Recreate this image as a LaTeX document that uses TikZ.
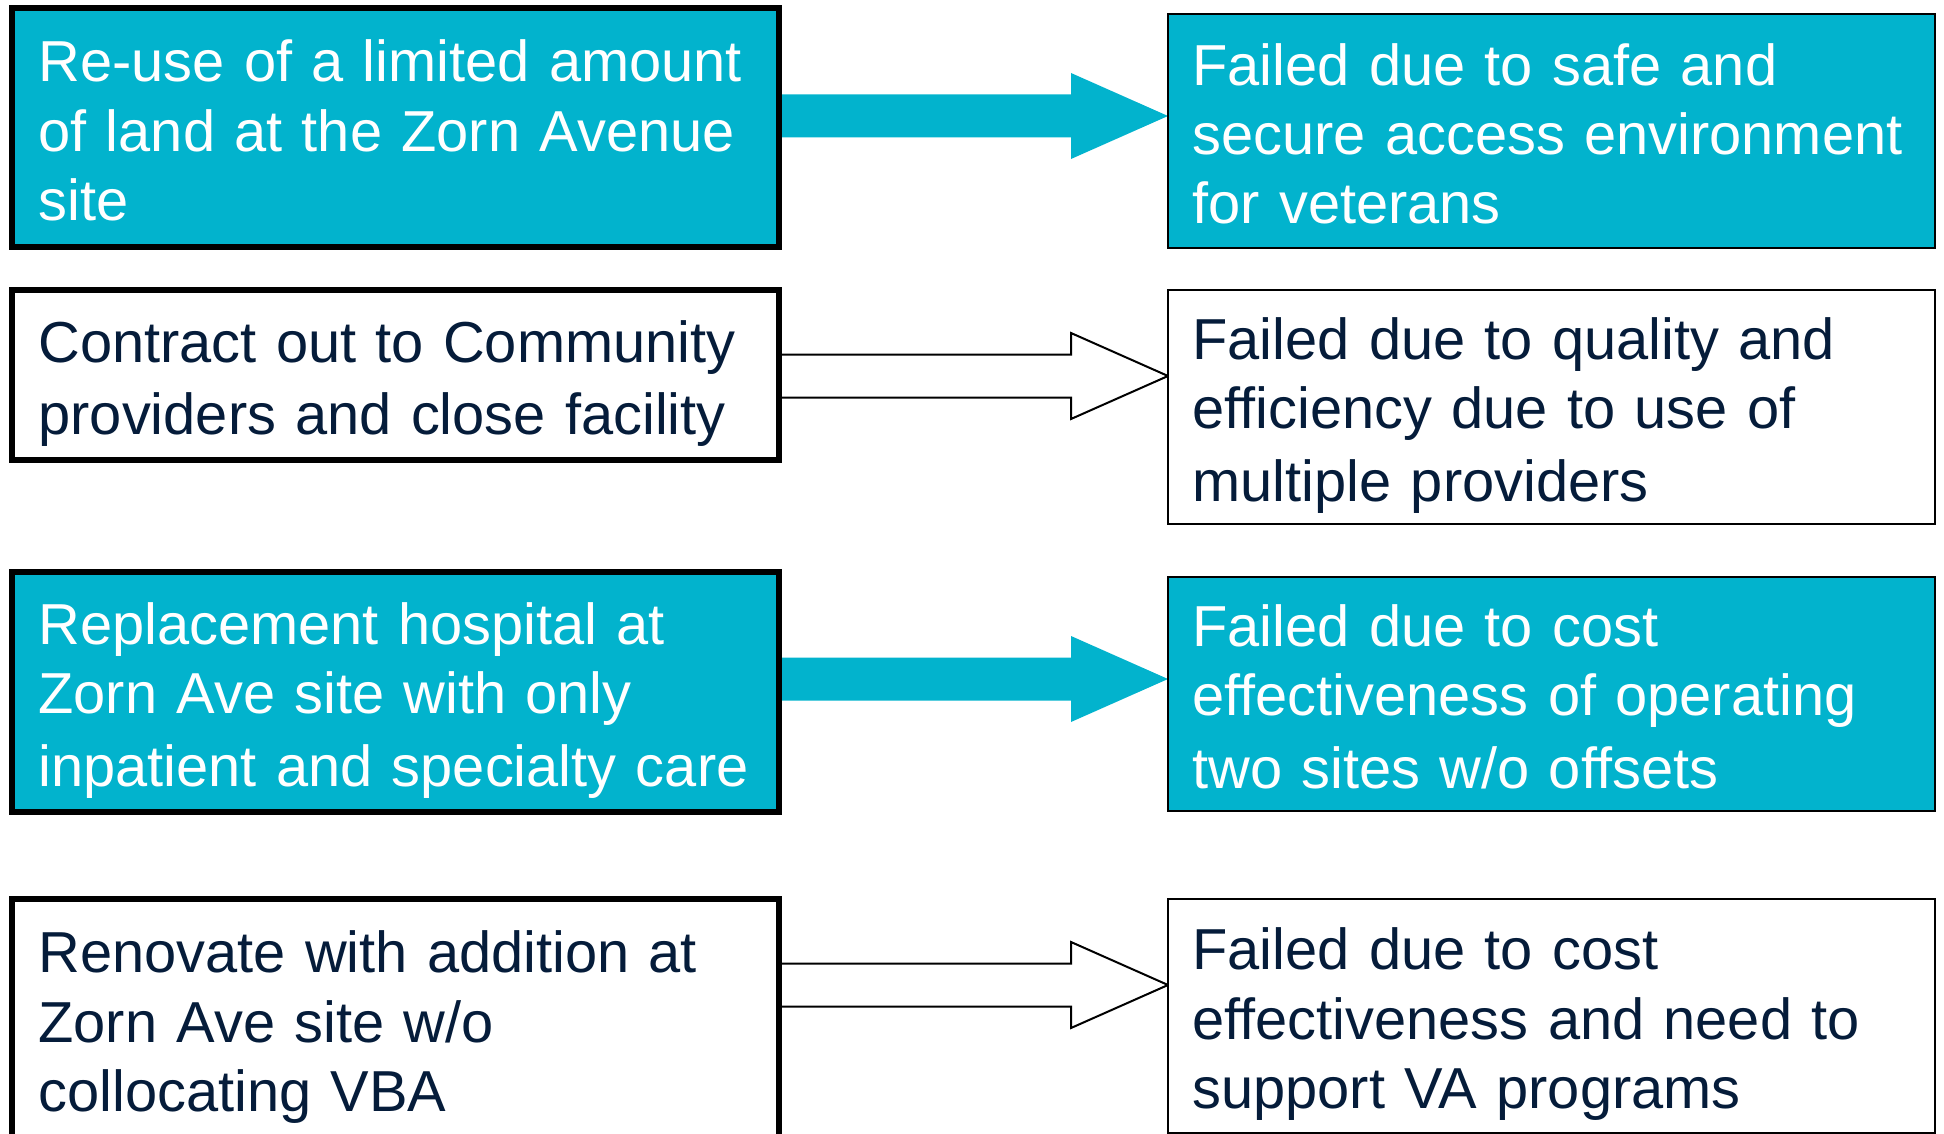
\documentclass[tikz,border=0pt]{standalone}
\usepackage{fontspec}
\setmainfont{Liberation Sans}
\usetikzlibrary{calc,backgrounds}
\definecolor{vacyan}{RGB}{2,179,205}
\definecolor{vanavy}{RGB}{5,28,58}
\newcommand{\bstr}{\rule[-5.55pt]{0pt}{34.7pt}}
\newcommand{\flowarrow}[4]{%
  \path (#2.east |- 0,#4) coordinate (as) (#3.west |- 0,#4) coordinate (ae);
  \draw[#1] ($(as)+(0,-21.5)$) -- ($(ae)+(-97,-21.5)$) -- ($(ae)+(-97,-43)$) -- (ae)
    -- ($(ae)+(-97,43)$) -- ($(ae)+(-97,21.5)$) -- ($(as)+(0,21.5)$) -- cycle;}
\begin{document}
\begin{tikzpicture}[x=0.5pt,y=-0.5pt,
  box/.style={draw=black, rectangle, anchor=north west, outer sep=0pt, inner ysep=0pt,
    minimum width=383.5pt, align=left, font=\fontsize{28.9pt}{34.7pt}\selectfont},
  leftbox/.style={box, line width=3pt, inner xsep=13.25pt, text width=357pt},
  rightbox/.style={box, line width=1pt, inner xsep=12.25pt, text width=359pt},
  hot/.style={fill=vacyan, text=white},
  cold/.style={fill=white, text=vanavy},
  solidarrow/.style={fill=vacyan, draw=none},
  hollowarrow/.style={fill=white, draw=black, line width=1pt, line join=miter}]
\useasboundingbox (0,0) rectangle (1944,1134);

\node[leftbox, hot, minimum height=119.75pt] (l1) at (12,8)
  {\bstr\mbox{Re-use of a limited amount}\\\mbox{of land at the Zorn Avenue}\\\mbox{site}\bstr};
\node[leftbox, cold, minimum height=85pt] (l2) at (12,290)
  {\bstr\mbox{Contract out to Community}\\\mbox{providers and close facility}\bstr};
\node[leftbox, hot, minimum height=120pt] (l3) at (12,572)
  {\bstr\mbox{Replacement hospital at}\\\mbox{Zorn Ave site with only}\\\mbox{inpatient and specialty care}\bstr};
\node[leftbox, cold, minimum height=120pt] (l4) at (12,899)
  {\bstr\mbox{Renovate with addition at}\\\mbox{Zorn Ave site w/o}\\\mbox{collocating VBA}\bstr};

\node[rightbox, hot, minimum height=117pt] (r1) at (1168,14)
  {\bstr\mbox{Failed due to safe and}\\\mbox{secure access environment}\\\mbox{for veterans}\bstr};
\node[rightbox, cold, minimum height=117pt] (r2) at (1168,290)
  {\bstr\mbox{Failed due to quality and}\\\mbox{efficiency due to use of}\\\mbox{multiple providers}\bstr};
\node[rightbox, hot, minimum height=117.25pt] (r3) at (1168,576.5)
  {\bstr\mbox{Failed due to cost}\\\mbox{effectiveness of operating}\\\mbox{two sites w/o offsets}\bstr};
\node[rightbox, cold, minimum height=117pt] (r4) at (1168,899)
  {\bstr\mbox{Failed due to cost}\\\mbox{effectiveness and need to}\\\mbox{support VA programs}\bstr};

\begin{scope}[on background layer]
  \flowarrow{solidarrow}{l1}{r1}{116}
  \flowarrow{hollowarrow}{l2}{r2}{376}
  \flowarrow{solidarrow}{l3}{r3}{679}
  \flowarrow{hollowarrow}{l4}{r4}{985}
\end{scope}
\end{tikzpicture}
\end{document}
